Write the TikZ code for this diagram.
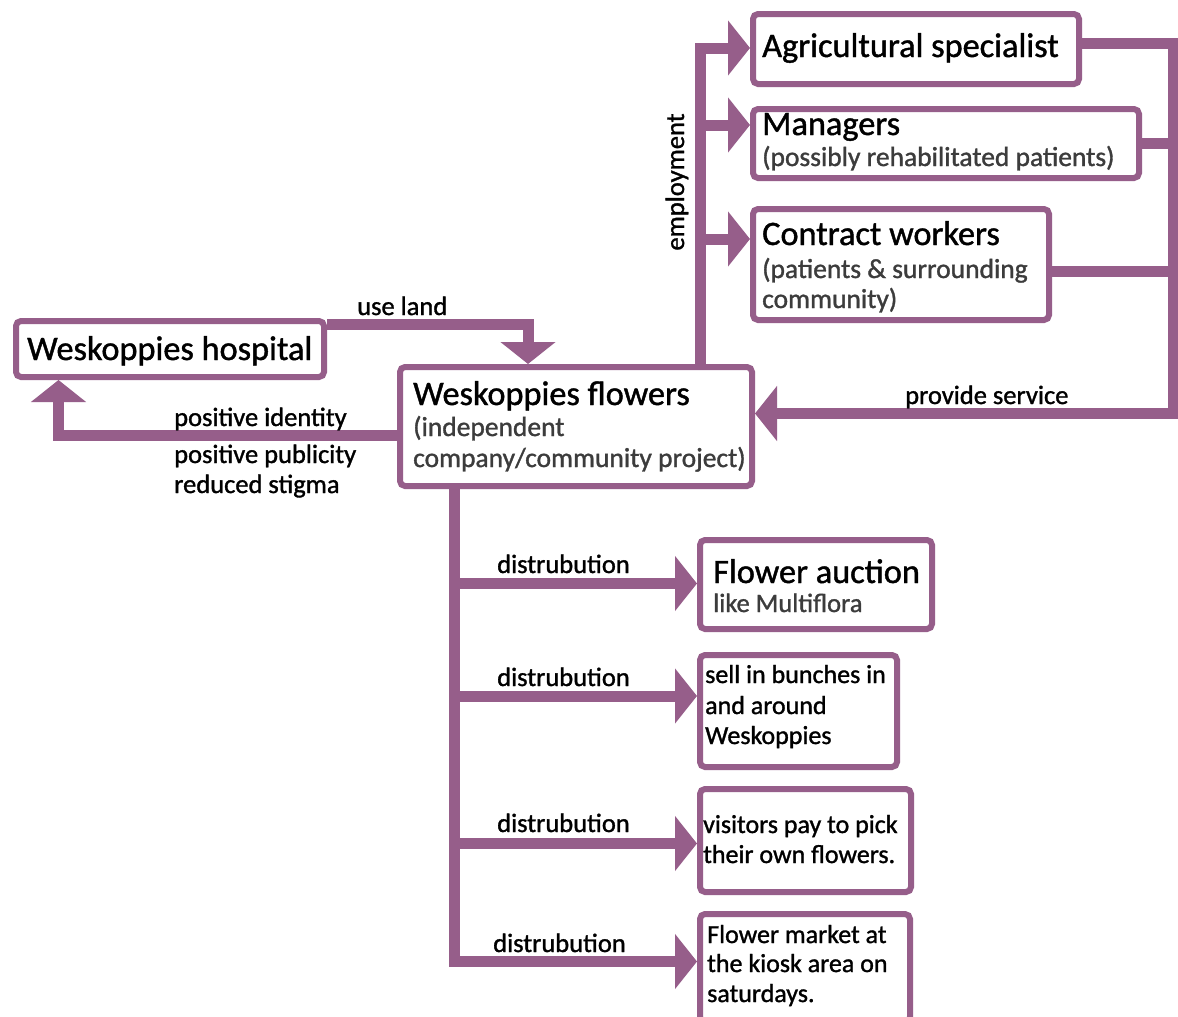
\documentclass[tikz,border=0pt]{standalone}
\usepackage{fontspec}
\setmainfont{Carlito}[BoldFont=Carlito, BoldFeatures={FakeBold=1.2}]
\usetikzlibrary{arrows.meta}
\definecolor{pur}{RGB}{150,94,138}
\definecolor{subg}{RGB}{60,60,60}
\tikzset{
  box/.style={draw=pur, line width=6pt, fill=white, rounded corners=5pt, inner sep=0pt},
  conn/.style={draw=pur, line width=11pt, line join=miter},
  arr/.style={-{Triangle[width=54pt,length=22pt]}},
  ttl/.style={inner sep=0pt, anchor=base west, font=\fontsize{34.3}{40}\selectfont\bfseries, text=black},
  sub/.style={inner sep=0pt, anchor=base west, font=\fontsize{27.5}{32}\selectfont\bfseries, text=subg},
  bod/.style={inner sep=0pt, anchor=base west, font=\fontsize{26}{31}\selectfont\bfseries, text=black},
  lbl/.style={inner sep=0pt, anchor=base west, font=\fontsize{26.5}{31}\selectfont\bfseries, text=black}
}
\begin{document}
\begin{tikzpicture}[x=1pt, y=-1pt]
\useasboundingbox (0,0) rectangle (1178,1017);
\fill[white] (0,0) rectangle (1178,1017);

% boxes
\node[box, minimum width=308pt, minimum height=56pt] (hosp) at (170,349) {};
\node[box, minimum width=352pt, minimum height=119pt] (flow) at (576,426.5) {};
\node[box, minimum width=326pt, minimum height=70pt] (agri) at (916,49) {};
\node[box, minimum width=386pt, minimum height=69pt] (mgr) at (946,143.5) {};
\node[box, minimum width=296pt, minimum height=111pt] (cw) at (901,264.5) {};
\node[box, minimum width=232pt, minimum height=89pt] (auc) at (816,584.5) {};
\node[box, minimum width=197pt, minimum height=112pt] (sell) at (798.5,711) {};
\node[box, minimum width=211pt, minimum height=103pt] (vis) at (805.5,840.5) {};
\node[box, minimum width=210pt, minimum height=108pt] (mkt) at (805,968) {};

% junction coordinates
\coordinate (ul) at (528,324.5);
\coordinate (pl) at (58.5,435.5);
\coordinate (e1) at (700.5,48);
\coordinate (e2) at (700.5,125);
\coordinate (e3) at (700.5,239);
\coordinate (rt) at (1173,43);
\coordinate (rc) at (1173,271);
\coordinate (rb) at (1173,413.5);
\coordinate (d1) at (454,583.5);
\coordinate (d2) at (454,696);
\coordinate (d3) at (454,843.5);
\coordinate (d4) at (454,961.5);

% connectors
\draw[conn, arr] (hosp.east |- ul) -- (ul) -- (flow.north -| ul);
\draw[conn, arr] (flow.west |- pl) -- (pl) -- (hosp.south -| pl);
\draw[conn, arr] (flow.north -| e1) -- (e1) -- (agri.west |- e1);
\draw[conn, arr] (e2) -- (mgr.west |- e2);
\draw[conn, arr] (e3) -- (cw.west |- e3);
\draw[conn, arr] (agri.east |- rt) -- (rt) -- (rb) -- (flow.east |- rb);
\draw[conn] (mgr.east) -- (mgr.east -| rt);
\draw[conn] (cw.east |- rc) -- (rc);
\draw[conn, arr] (flow.south -| d1) -- (d4) -- (mkt.west |- d4);
\draw[conn, arr] (d1) -- (auc.west |- d1);
\draw[conn, arr] (d2) -- (sell.west |- d2);
\draw[conn, arr] (d3) -- (vis.west |- d3);

% box texts
\node[ttl] (hospT) at (27,360) {Weskoppies hospital};
\node[ttl] (flowT) at (413,405) {Weskoppies flowers};
\node[sub] (flowS1) at (413,436) {(independent};
\node[sub] (flowS2) at (413,467) {company/community project)};
\node[ttl] (agriT) at (762,57) {Agricultural specialist};
\node[ttl] (mgrT) at (762,135) {Managers};
\node[sub] (mgrS) at (762,166) {(possibly rehabilitated patients)};
\node[ttl] (cwT) at (762,245) {Contract workers};
\node[sub] (cwS1) at (762,278) {(patients \& surrounding};
\node[sub] (cwS2) at (762,308) {community)};
\node[ttl] (aucT) at (713,583) {Flower auction};
\node[sub, font=\fontsize{26.5}{31}\selectfont\bfseries] (aucS) at (713,612) {like Multiflora};
\node[bod] (sell1) at (705,683) {sell in bunches in};
\node[bod] (sell2) at (705,714) {and around};
\node[bod] (sell3) at (705,744) {Weskoppies};
\node[bod] (vis1) at (703,833) {visitors pay to pick};
\node[bod] (vis2) at (703,863) {their own flowers.};
\node[bod] (mkt1) at (707,943) {Flower market at};
\node[bod] (mkt2) at (707,972) {the kiosk area on};
\node[bod] (mkt3) at (707,1002) {saturdays.};

% connector labels
\node[lbl] (lUse) at (357,315) {use land};
\node[lbl] (lPos1) at (174,426) {positive identity};
\node[lbl] (lPos2) at (174,463) {positive publicity};
\node[lbl] (lPos3) at (174,493) {reduced stigma};
\node[lbl] (lServ) at (905,404) {provide service};
\node[lbl, rotate=90, anchor=base] (lEmp) at (684,182) {employment};
\node[lbl] (lD1) at (497,573) {distrubution};
\node[lbl] (lD2) at (497,686) {distrubution};
\node[lbl] (lD3) at (497,832) {distrubution};
\node[lbl] (lD4) at (493,952) {distrubution};
\end{tikzpicture}
\end{document}
